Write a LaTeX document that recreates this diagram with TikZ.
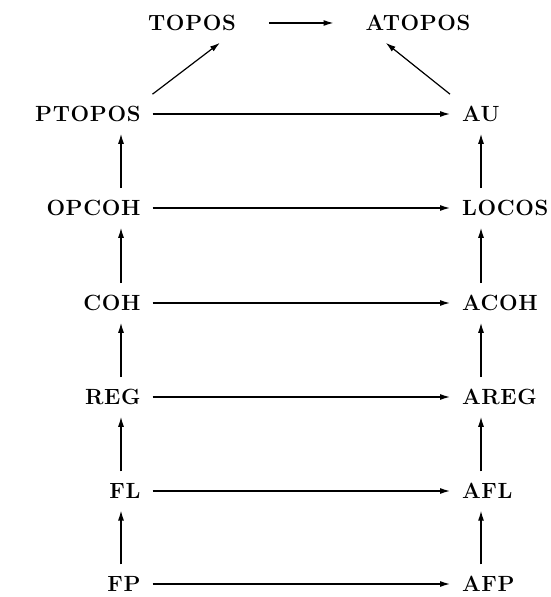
\documentclass[tikz,border=0pt]{standalone}
\usepackage{fontspec}
\setmainfont{Latin Modern Roman}
\usetikzlibrary{arrows.meta,calc}
\begin{document}
\begin{tikzpicture}[x=1pt,y=1pt,
  lbl/.style={inner sep=0pt,outer sep=12pt,font=\fontsize{22}{26}\selectfont\bfseries\addfontfeatures{LetterSpace=3}},
  lft/.style={lbl,anchor=east},
  rgt/.style={lbl,anchor=west},
  arr/.style={line width=1.2pt,-{Latex[length=10pt,width=6pt]}}]
\useasboundingbox (0,0) rectangle (551,597);
\node[lbl] (topos) at (192,574) {TOPOS};
\node[lbl] (atopos) at (418,574) {ATOPOS};
\node[lft] (ptopos) at (152.5,483) {PTOPOS};
\node[lft] (opcoh) at (152.5,389) {OPCOH};
\node[lft] (coh) at (152.5,294) {COH};
\node[lft] (reg) at (152.5,200) {REG};
\node[lft] (fl) at (152.5,106) {FL};
\node[lft] (fp) at (152.5,13) {FP};
\node[rgt] (au) at (450,483) {AU};
\node[rgt] (locos) at (450,389) {LOCOS};
\node[rgt] (acoh) at (450,294) {ACOH};
\node[rgt] (areg) at (450,200) {AREG};
\node[rgt] (afl) at (450,106) {AFL};
\node[rgt] (afp) at (450,13) {AFP};
\coordinate (lx) at (121,0);
\coordinate (rx) at (481,0);
% top
\draw[arr,shorten <=21pt,shorten >=20pt] (topos) -- (atopos);
\draw[arr] (ptopos.north east) -- ($(topos.south)!0.5!(topos.south east)$);
\draw[arr] (au.north west) -- ($(atopos.south)!0.5!(atopos.south west)$);
% horizontals
\foreach \a/\b in {ptopos/au,opcoh/locos,coh/acoh,reg/areg,fl/afl,fp/afp}
  \draw[arr] (\a) -- (\b);
% verticals
\foreach \a/\b in {opcoh/ptopos,coh/opcoh,reg/coh,fl/reg,fp/fl}
  \draw[arr] (\a.north -| lx) -- (\b.south -| lx);
\foreach \a/\b in {locos/au,acoh/locos,areg/acoh,afl/areg,afp/afl}
  \draw[arr] (\a.north -| rx) -- (\b.south -| rx);
\end{tikzpicture}
\end{document}
